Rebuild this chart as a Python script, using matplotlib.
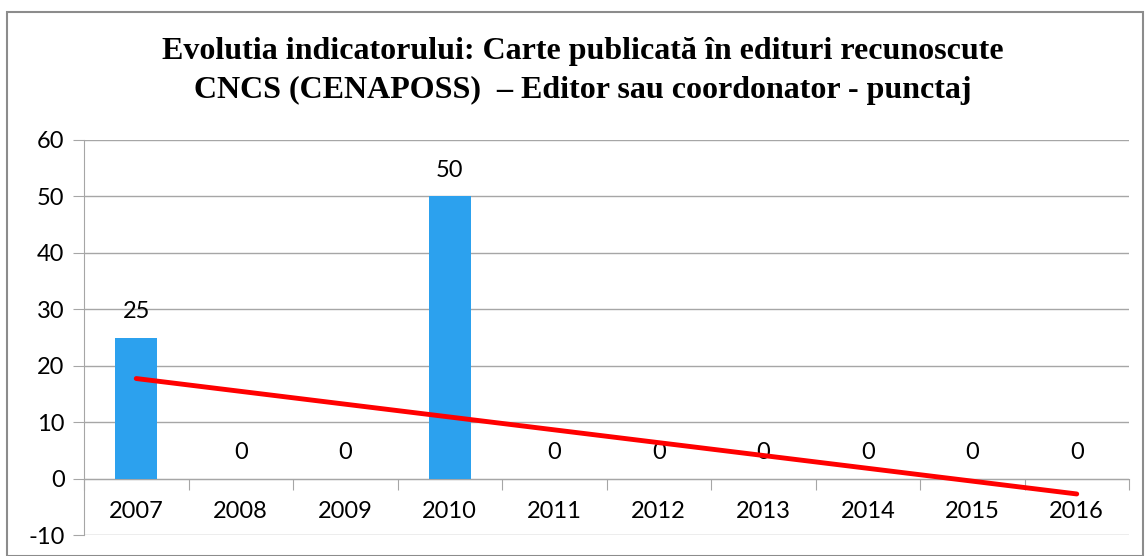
import matplotlib; matplotlib.use("Agg")
import matplotlib.pyplot as plt
from matplotlib.patches import Rectangle
import numpy as np

ani = ["2007", "2008", "2009", "2010", "2011", "2012", "2013", "2014", "2015", "2016"]
punctaj = [25, 0, 0, 50, 0, 0, 0, 0, 0, 0]
titlu = "Evolutia indicatorului: Carte publicată în edituri recunoscute\nCNCS (CENAPOSS)  – Editor sau coordonator - punctaj"

plt.rcParams["axes.unicode_minus"] = False

fig = plt.figure(figsize=(11.45, 5.56), dpi=100)
fig.patches.append(Rectangle((7/1145, 0), 1136/1145, 1 - 12/556, transform=fig.transFigure,
                             fill=False, edgecolor="#8c8c8c", lw=1.5))
ax = fig.add_axes([84/1145, 1 - 535/556, 1045/1145, 395/556])

x = np.arange(len(ani))
ax.bar(x, punctaj, 0.4, color="#2ca1ee", zorder=2)
for xi, v in zip(x, punctaj):
    ax.annotate(f"{v}", (xi, v), xytext=(0, 11), textcoords="offset points",
                ha="center", va="bottom", fontsize=17, family="Lato")

# linie de tendinta liniara (ca in Excel)
k, b = np.polyfit(x, punctaj, 1)
ax.plot(x, k * x + b, color="#ff0000", lw=3.5, zorder=3, solid_capstyle="round")

ax.set_xlim(-0.5, 9.5)
ax.set_ylim(-10, 60)
ax.set_yticks(range(-10, 61, 10))
ax.grid(axis="y", color="#a6a6a6", lw=1, zorder=0)
for s in ["top", "right"]:
    ax.spines[s].set_visible(False)
ax.spines["bottom"].set_position(("data", 0))
ax.spines["bottom"].set_color("#a6a6a6")
ax.spines["left"].set_color("#a6a6a6")
ax.spines["bottom"].set_zorder(1)

ax.set_xticks(np.arange(-0.5, 10, 1))
ax.set_xticklabels([])
ax.set_xticks(x, minor=True)
ax.set_xticklabels(ani, minor=True, fontsize=17, family="Lato")
ax.tick_params(axis="x", which="major", length=8, color="#a6a6a6")
ax.tick_params(axis="x", which="minor", length=0, pad=16)
ax.tick_params(axis="y", length=8, color="#a6a6a6", labelsize=17, pad=6)
for t in ax.get_yticklabels():
    t.set_family("Lato")

fig.text(583/1145, 1 - 71/556, titlu, ha="center", va="center", fontsize=23,
         fontweight="bold", family="Liberation Serif", linespacing=1.42)

fig.savefig("out.png", dpi=100)
